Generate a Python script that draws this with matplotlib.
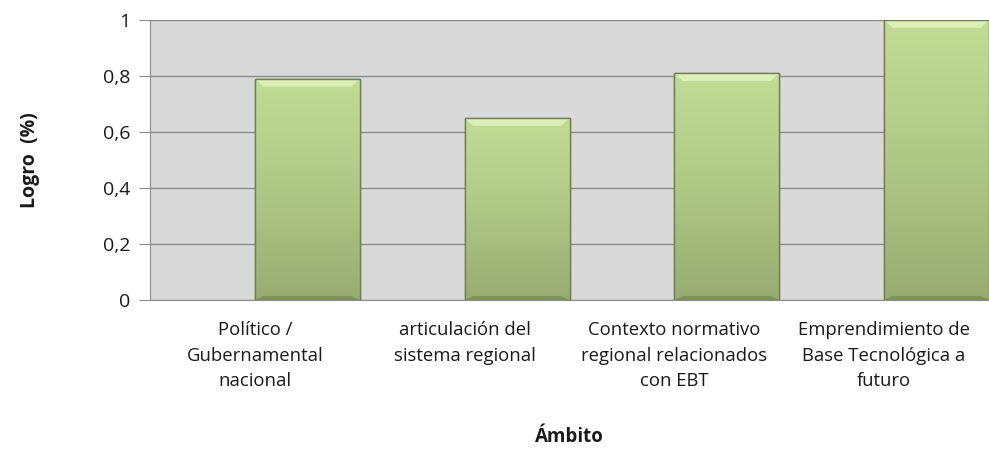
import matplotlib
matplotlib.use("Agg")
import matplotlib.pyplot as plt
import numpy as np
from matplotlib.colors import LinearSegmentedColormap

categories = ["Político /\nGubernamental\nnacional",
              "articulación del\nsistema regional",
              "Contexto normativo\nregional relacionados\ncon EBT",
              "Emprendimiento de\nBase Tecnológica a\nfuturo"]
values = [0.79, 0.65, 0.81, 1.0]
yticks = [0, 0.2, 0.4, 0.6, 0.8, 1]
ytick_labels = ["0", "0,2", "0,4", "0,6", "0,8", "1"]

plt.rcParams['font.family'] = ['Open Sans', 'DejaVu Sans']

fig = plt.figure(figsize=(9.89, 4.70), dpi=100)
ax = fig.add_axes([150/989, 1-300/470, 839/989, 280/470])
ax.set_facecolor("#d9d9d9")
ax.set_xlim(-0.5, len(categories)-0.5)
ax.set_ylim(0, 1)

ax.set_yticks(yticks)
ax.set_yticklabels(ytick_labels, fontsize=14, color="#1a1a1a")
ax.yaxis.grid(True, color="#8c8c8c", linewidth=1)
ax.set_axisbelow(True)
ax.tick_params(axis='y', length=8, color="#8c8c8c", pad=6)
ax.tick_params(axis='x', length=0, pad=15)
ax.set_xticks(range(len(categories)))
ax.set_xticklabels(categories, fontsize=13.3, color="#1a1a1a", linespacing=1.55)

for s in ['top', 'right']:
    ax.spines[s].set_visible(False)
for s in ['left', 'bottom']:
    ax.spines[s].set_color("#8c8c8c")

cmap = LinearSegmentedColormap.from_list("g", ["#98ac72", "#b0c886", "#c2dc96"])
grad = np.linspace(0, 1, 256).reshape(-1, 1)
x = np.arange(len(categories)) + 0.25
bars = ax.bar(x, values, width=0.5, color="#b5cd8b", edgecolor="#6e7f50", linewidth=1, zorder=2)
for b in bars:
    x0, w, h = b.get_x(), b.get_width(), b.get_height()
    im = ax.imshow(grad, cmap=cmap, aspect='auto', origin='lower',
                   extent=[x0, x0+w, 0, h], zorder=2.5)
    im.set_clip_path(b)
    ax.fill([x0, x0+w, x0+w-0.04, x0+0.04], [h, h, h-0.028, h-0.028],
            color="#dcf0b6", zorder=3, lw=0)
    ax.fill([x0, x0+0.04, x0+w-0.04, x0+w], [0, 0.014, 0.014, 0],
            color="#7f925c", zorder=3, lw=0)
    ax.add_patch(plt.Rectangle((x0, 0), w, h, fill=False, edgecolor="#6e7f50", lw=1, zorder=4))

ax.set_ylabel("Logro  (%)", fontsize=14, fontweight='bold', color="#1a1a1a")
ax.yaxis.set_label_coords(-110/839, 0.5)
fig.text((150+839/2)/989, 1-437/470, "Ámbito", ha='center', va='center',
         fontsize=13.5, fontweight='bold', color="#1a1a1a")

fig.savefig("out.png", dpi=100)
